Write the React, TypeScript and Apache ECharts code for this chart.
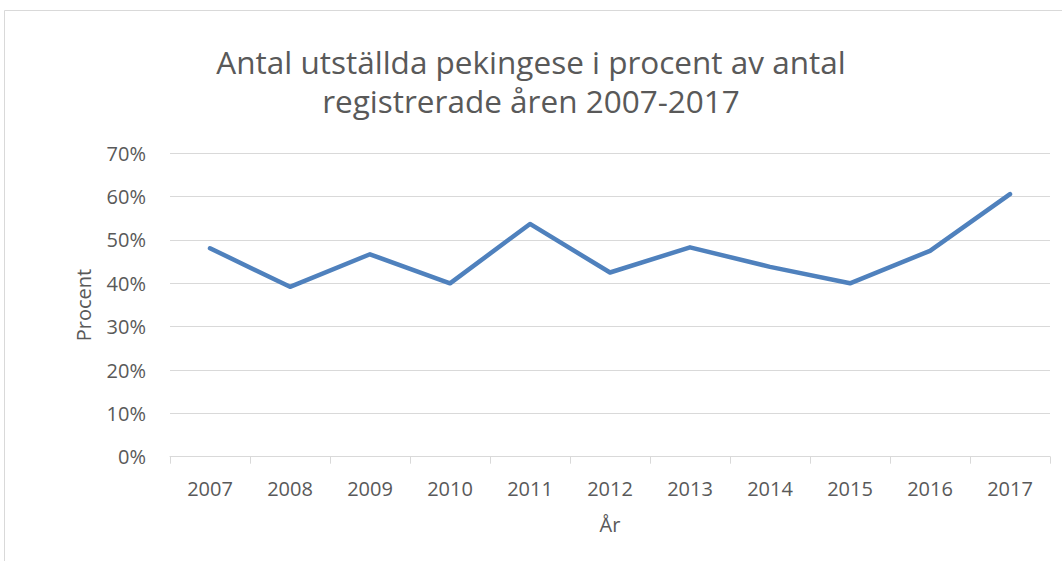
import React, { useEffect, useRef } from "react";
import * as echarts from "echarts";

const years = ["2007", "2008", "2009", "2010", "2011", "2012", "2013", "2014", "2015", "2016", "2017"];
const percent = [48.1, 39.2, 46.7, 40.0, 53.7, 42.5, 48.3, 43.8, 40.0, 47.5, 60.6];
const titleText = "Antal utställda pekingese i procent av antal\nregistrerade åren 2007-2017";
const xName = "År";
const yName = "Procent";

const FONT = "'Open Sans', sans-serif";
const TXT = "#595959";
const GRID = "#d9d9d9";

export default function App() {
  const ref = useRef<HTMLDivElement>(null);
  useEffect(() => {
    document.body.style.margin = "0";
    const chart = echarts.init(ref.current!, null, { renderer: "svg" });
    chart.setOption({
      animation: false,
      backgroundColor: "#ffffff",
      title: {
        text: titleText,
        left: "center",
        top: 37,
        textStyle: { fontFamily: FONT, fontSize: 31.5, fontWeight: "normal", color: TXT, lineHeight: 39 },
      },
      graphic: [
        {
          type: "rect",
          shape: { x: 4.5, y: 10.5, width: 1200, height: 700 },
          style: { fill: "none", stroke: GRID, lineWidth: 1 },
          silent: true,
          z: -1,
        },
      ],
      grid: { left: 170, right: 12, top: 153.3, bottom: 104.3, containLabel: false },
      xAxis: {
        type: "category",
        data: years,
        boundaryGap: true,
        name: xName,
        nameLocation: "middle",
        nameGap: 58,
        nameTextStyle: { fontFamily: FONT, fontSize: 20, color: TXT },
        axisLine: { lineStyle: { color: GRID, width: 1 } },
        axisTick: { show: true, length: 7, lineStyle: { color: GRID } },
        axisLabel: { fontFamily: FONT, fontSize: 20, color: TXT, margin: 22 },
      },
      yAxis: {
        type: "value",
        min: 0,
        max: 70,
        interval: 10,
        name: yName,
        nameLocation: "middle",
        nameGap: 77,
        nameTextStyle: { fontFamily: FONT, fontSize: 20, color: TXT },
        axisLine: { show: false },
        axisTick: { show: false },
        axisLabel: { fontFamily: FONT, fontSize: 20, color: TXT, margin: 24, formatter: "{value}%" },
        splitLine: { lineStyle: { color: GRID, width: 1 } },
      },
      series: [
        {
          type: "line",
          data: percent,
          symbol: "none",
          lineStyle: { color: "#4f81bd", width: 4.5, cap: "round", join: "round" },
          itemStyle: { color: "#4f81bd" },
        },
      ],
    });
    return () => chart.dispose();
  }, []);
  return <div ref={ref} style={{ width: 1062, height: 561 }} />;
}
